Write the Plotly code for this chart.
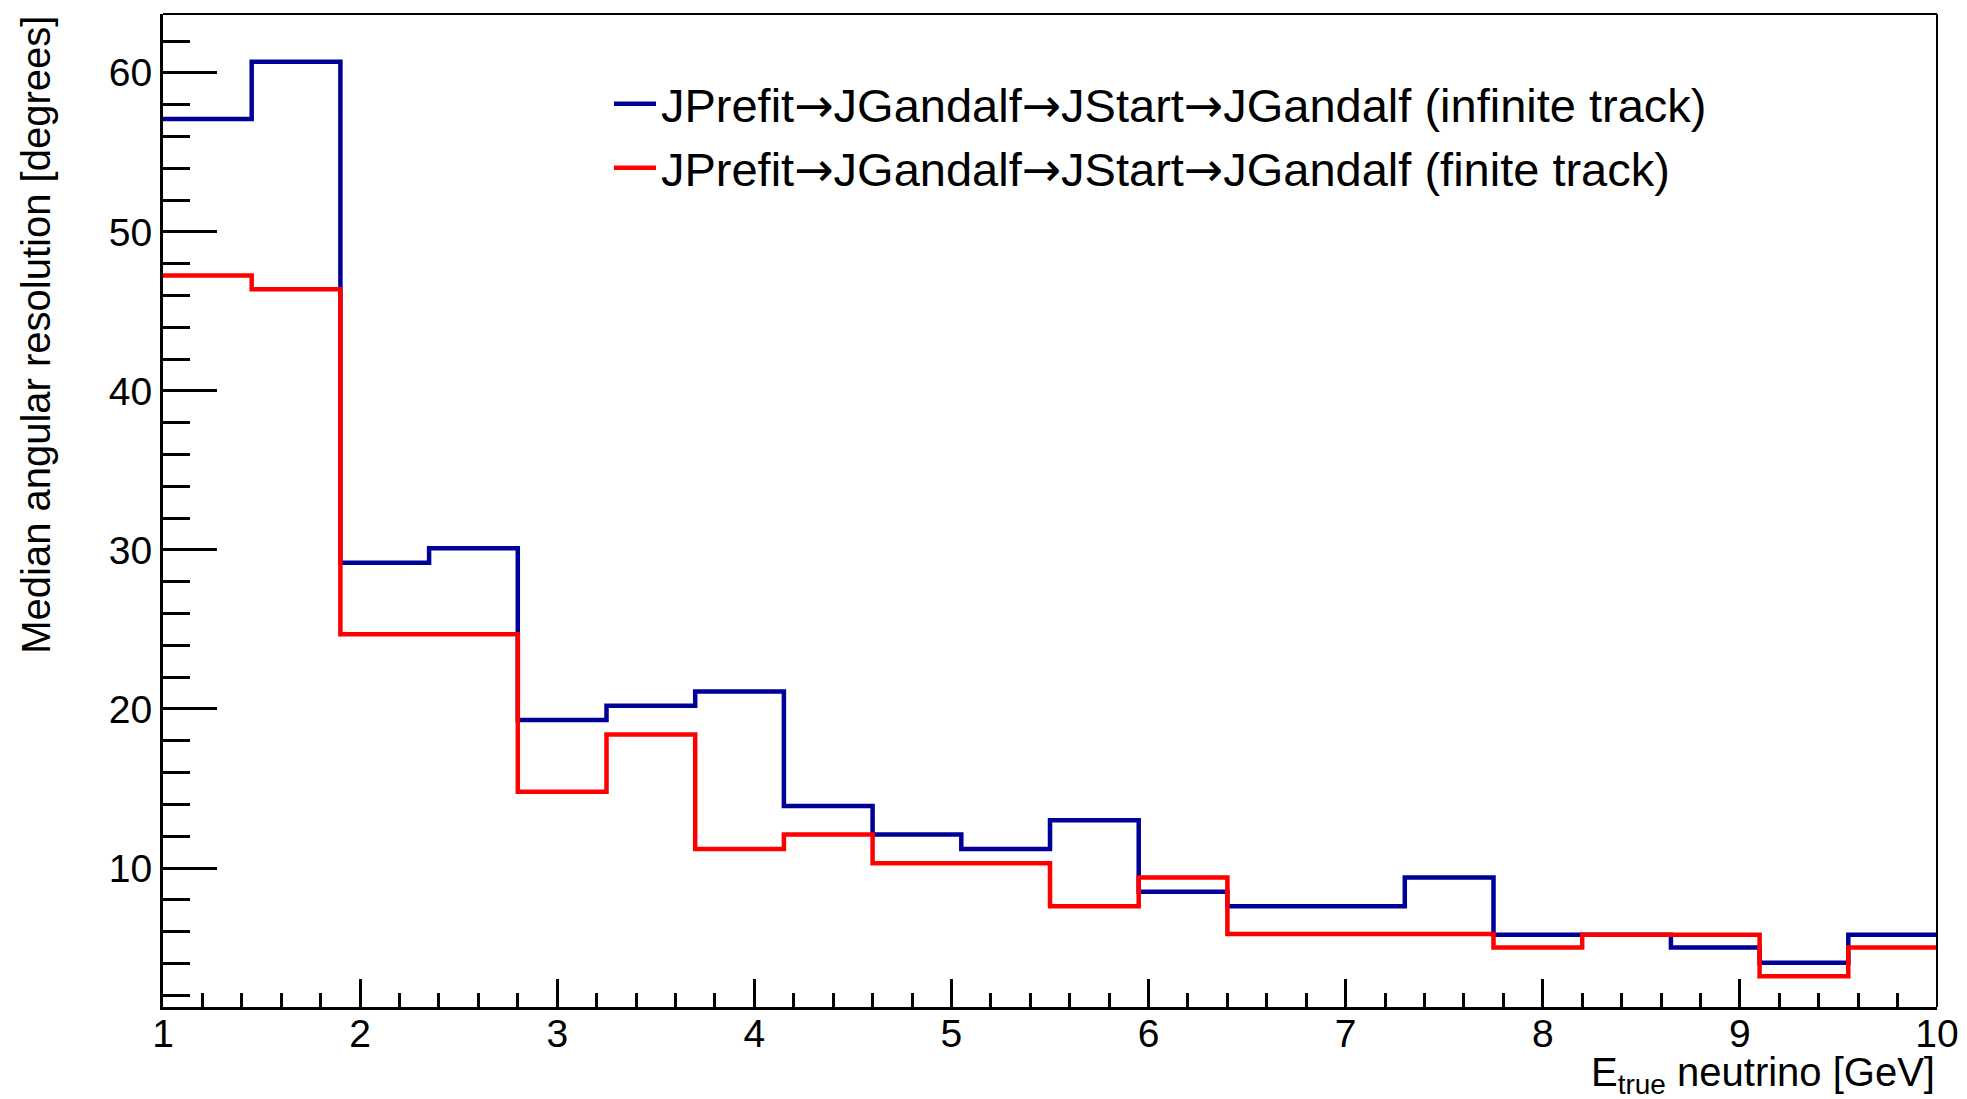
import plotly.graph_objects as go

# Bin edges (GeV) - 20 bins from 1 to 10
bin_edges = [1.0, 1.45, 1.9, 2.35, 2.8, 3.25, 3.7, 4.15, 4.6, 5.05, 5.5,
             5.95, 6.4, 6.85, 7.3, 7.75, 8.2, 8.65, 9.1, 9.55, 10.0]

# Median angular resolution [degrees] per bin
infinite_track = [57.1, 60.7, 29.2, 30.1, 19.3, 20.2, 21.1, 13.9, 12.1, 11.2,
                  13.0, 8.5, 7.6, 7.6, 9.4, 5.8, 5.8, 5.0, 4.05, 5.8]
finite_track = [47.25, 46.4, 24.7, 24.7, 14.8, 18.4, 11.2, 12.1, 10.3, 10.3,
                7.6, 9.4, 5.85, 5.85, 5.85, 5.0, 5.8, 5.8, 3.2, 5.0]

chain_steps = ["JPrefit", "JGandalf", "JStart", "JGandalf"]
series_suffixes = ["(infinite track)", "(finite track)"]
series_colors = ["#000099", "#ff0000"]

x_tick_vals = [1, 2, 3, 4, 5, 6, 7, 8, 9, 10]
y_tick_vals = [10, 20, 30, 40, 50, 60]

FONT = "Liberation Sans, Arial, Helvetica, sans-serif"
ARROW = '<span style="font-family:DejaVu Sans">→</span>'

def legend_label(suffix):
    return ARROW.join(chain_steps) + " " + suffix

fig = go.Figure()
for i, (suffix, vals, col) in enumerate(zip(series_suffixes, [infinite_track, finite_track], series_colors)):
    fig.add_trace(go.Scatter(
        x=bin_edges,
        y=vals + [vals[-1]],
        mode="lines",
        line=dict(shape="hv", color=col, width=4.5),
        name=legend_label(suffix),
        legendgroup=f"g{i}",
    ))

fig.update_layout(
    width=1967, height=1099,
    margin=dict(l=163, r=30, t=14, b=92, pad=0, autoexpand=False),
    paper_bgcolor="white", plot_bgcolor="white",
    font=dict(family=FONT, color="black", size=39),
    showlegend=True,
    legend=dict(
        x=0.2514, y=0.947, xanchor="left", yanchor="top",
        font=dict(family=FONT, size=47, color="black"),
        bgcolor="rgba(0,0,0,0)", borderwidth=0,
        traceorder="grouped", tracegroupgap=0,
        itemwidth=42,
    ),
    xaxis=dict(
        range=[1, 10], tickvals=x_tick_vals, ticktext=[str(v) for v in x_tick_vals],
        ticks="inside", ticklen=28, tickwidth=2.5, tickcolor="black",
        minor=dict(dtick=0.2, tick0=1, ticks="inside", ticklen=14, tickwidth=2.5, tickcolor="black"),
        showline=True, linewidth=3, linecolor="black", mirror=False,
        showgrid=False, zeroline=False, automargin=False,
        ticklabelstandoff=-10,
        tickfont=dict(family=FONT, size=39, color="black"),
    ),
    yaxis=dict(
        range=[1.26, 63.7], tickvals=y_tick_vals, ticktext=[str(v) for v in y_tick_vals],
        ticks="inside", ticklen=54, tickwidth=3, tickcolor="black",
        minor=dict(dtick=2, tick0=0, ticks="inside", ticklen=27, tickwidth=3, tickcolor="black"),
        showline=True, linewidth=3, linecolor="black", mirror=False,
        showgrid=False, zeroline=False, automargin=False,
        tickfont=dict(family=FONT, size=39, color="black"),
    ),
    shapes=[
        dict(type="line", xref="paper", yref="paper", x0=0, x1=1, y0=1, y1=1,
             line=dict(color="black", width=2)),
        dict(type="line", xref="paper", yref="paper", x0=1, x1=1, y0=0, y1=1,
             line=dict(color="black", width=2)),
    ],
    annotations=[
        dict(text="E<sub>true</sub> neutrino [GeV]", xref="paper", yref="paper",
             x=1.0, y=-0.041, xanchor="right", yanchor="top", showarrow=False,
             font=dict(family=FONT, size=40, color="black")),
        dict(text="Median angular resolution [degrees]", xref="paper", yref="paper",
             x=-0.0717, y=1.0, xanchor="center", yanchor="top", textangle=-90, showarrow=False,
             font=dict(family=FONT, size=40, color="black")),
    ],
)

fig.write_html("out.html")
